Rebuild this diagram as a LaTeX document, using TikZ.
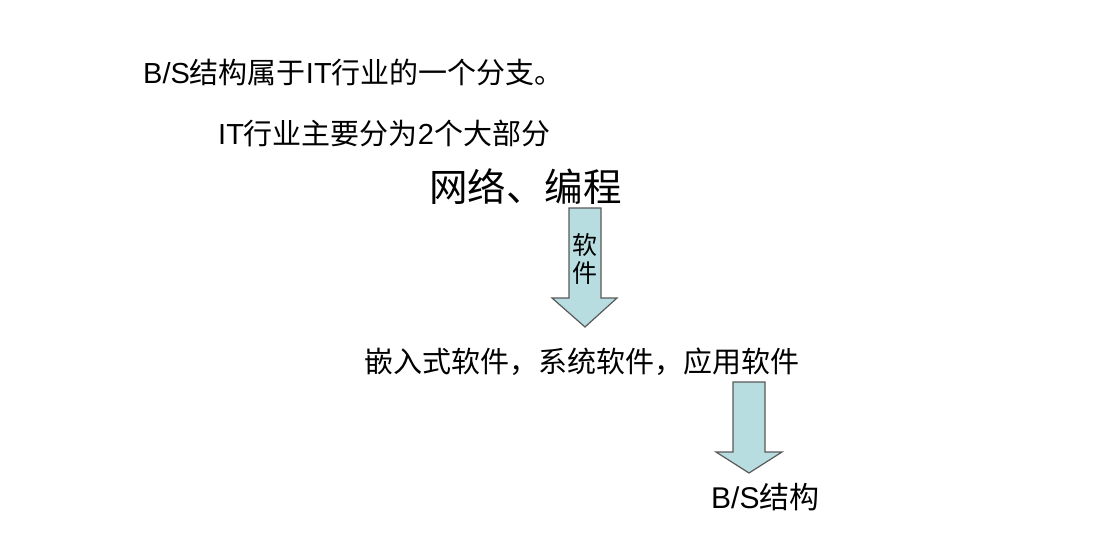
\documentclass[tikz,border=0pt]{standalone}
\usepackage{fontspec}
\setmainfont{Liberation Sans}
\newfontfamily\cjk{Noto Sans CJK SC}
\usetikzlibrary{positioning,calc}
\definecolor{arrowfill}{RGB}{183,221,224}
\tikzstyle{line}=[anchor=west,inner sep=0pt]
\tikzstyle{bigarrow}=[fill=arrowfill,draw=black!65,line width=1.2pt,line join=miter]

\begin{document}
\begin{tikzpicture}[x=1pt,y=-1pt]
    \useasboundingbox (0,0) rectangle (1102,556);
    % texts
    \node [line,font=\fontsize{29}{30}\selectfont] (branch) at (143,72)
      {B/S{\cjk 结构属于}IT{\cjk 行业的一个分支。}};
    \node [line,font=\fontsize{29}{30}\selectfont] (parts) at (218,133)
      {IT{\cjk 行业主要分为}2{\cjk 个大部分}};
    \node [line,font=\fontsize{38.5}{40}\selectfont\cjk] (net) at (429,187)
      {网络、编程};
    \node [line,font=\fontsize{29}{30}\selectfont\cjk] (kinds) at (364,362)
      {嵌入式软件，系统软件，应用软件};
    \node [line,font=\fontsize{30}{30}\selectfont] (bs) at (711,497)
      {B/S{\cjk 结构}};
    % arrows
    \draw [bigarrow] (569,208) -- (601,208) -- (601,298) -- (617,298)
      -- (585,327) -- (552,298) -- (569,298) -- cycle;
    \node [inner sep=0pt,align=center,font=\fontsize{25}{28}\selectfont\cjk]
      (soft) at (585,259) {软\\件};
    \draw [bigarrow] (733,382) -- (765,382) -- (765,452) -- (782,452)
      -- (749,473) -- (716,452) -- (733,452) -- cycle;
\end{tikzpicture}
\end{document}
